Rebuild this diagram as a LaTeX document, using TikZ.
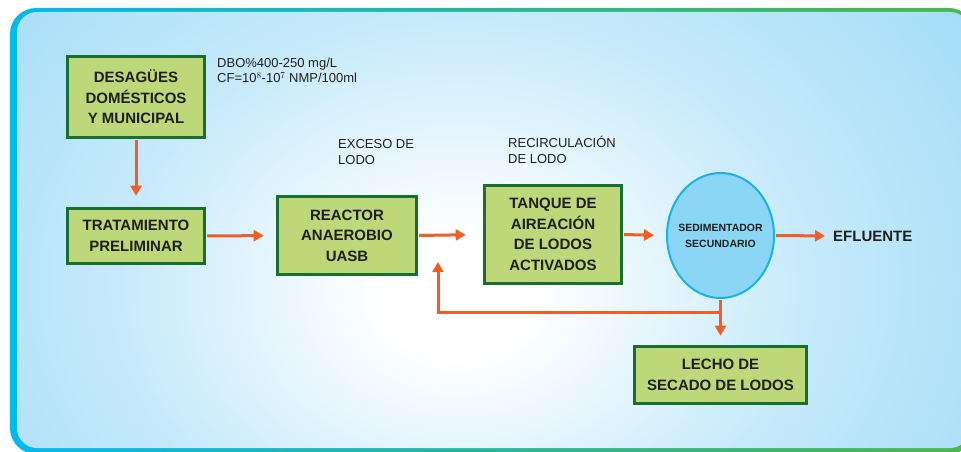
\documentclass[tikz,border=0pt]{standalone}
\usepackage{fontspec}
\setmainfont{Liberation Sans}
\usepackage{xcolor}
\usetikzlibrary{shapes.geometric,arrows.meta,positioning}

\definecolor{boxfill}{RGB}{189,216,121}
\definecolor{boxline}{RGB}{24,112,48}
\definecolor{flow}{RGB}{240,94,40}
\definecolor{sedfill}{RGB}{140,214,245}
\definecolor{sedline}{RGB}{25,178,232}
\definecolor{bgblue}{RGB}{142,213,246}
\definecolor{rimcyan}{RGB}{0,185,240}
\definecolor{rimteal}{RGB}{30,178,165}
\definecolor{rimgreen}{RGB}{78,183,72}

\pgfdeclareradialshading{bgshade}{\pgfpoint{-2bp}{-5bp}}{%
  color(0bp)=(white); color(4bp)=(white);
  color(18bp)=(bgblue!50!white); color(40bp)=(bgblue); color(100bp)=(bgblue)}

\tikzset{
  procbox/.style={draw=boxline, line width=2.6pt, fill=boxfill, align=center,
    inner sep=0pt, text=black!88, font=\bfseries\fontsize{15}{20.5}\selectfont},
  flowline/.style={draw=flow, line width=3pt},
  flowarrow/.style={flowline, -{Triangle[length=10pt,width=11pt]}},
  note/.style={align=left, inner sep=0pt, anchor=north west, text=black!88,
    font=\fontsize{13}{16}\selectfont}
}

\begin{document}
\begin{tikzpicture}[x=1pt, y=-1pt]
        % Page size and clip
        \useasboundingbox (0,0) rectangle (961,452);
        \clip (0,0) rectangle (961,452);

        % Frame: coloured rim, then light blue shaded panel
        \shade[left color=rimcyan, middle color=rimteal, right color=rimgreen,
            rounded corners=26pt] (10,8) rectangle (975,454);
        \begin{scope}
            \clip[rounded corners=20pt] (17,12) rectangle (970,448);
            \shade[shading=bgshade] (17,-150) rectangle (970,600);
        \end{scope}

        % Process units
        \node[procbox, minimum width=137, minimum height=81] (des) at (136,97)
            {DESAGÜES\\DOMÉSTICOS\\Y MUNICIPAL};
        \node[procbox, minimum width=137, minimum height=55] (pre) at (136,236)
            {TRATAMIENTO\\PRELIMINAR};
        \node[procbox, minimum width=139, minimum height=78] (uasb) at (347,235.5)
            {REACTOR\\ANAEROBIO\\UASB};
        \node[procbox, minimum width=137, minimum height=98] (tanque) at (553,234.5)
            {TANQUE DE\\AIREACIÓN\\DE LODOS\\ACTIVADOS};
        \node[ellipse, draw=sedline, line width=2pt, fill=sedfill, align=center,
            inner sep=0pt, minimum width=107, minimum height=125, text=black!88,
            font=\bfseries\fontsize{10.5}{16}\selectfont] (sed) at (720.5,235.5)
            {\makebox[0pt]{SEDIMENTADOR}\\\makebox[0pt]{SECUNDARIO}};
        \node[procbox, minimum width=172, minimum height=57] (lecho) at (720.5,375)
            {LECHO DE\\SECADO DE LODOS};
        \node[anchor=west, inner sep=0pt, text=black!88,
            font=\bfseries\fontsize{15}{18}\selectfont] (efl) at (833,236) {EFLUENTE};

        % Notes
        \node[note, font=\fontsize{13}{15}\selectfont] (dbo) at (217,58)
            {DBO\%400-250 mg/L\\CF=10$^{8}$-10$^{7}$ NMP/100ml};
        \node[note] (exceso) at (338,139.5) {EXCESO DE\\LODO};
        \node[note] (recirc) at (508,136.5) {RECIRCULACIÓN\\DE LODO};

        % Flow lines
        \coordinate (jn) at (720.5,312);
        \coordinate (rec) at (438,262);
        \draw[flowarrow, shorten <=1.3pt, shorten >=11.5pt] (des.south) -- (pre.north);
        \draw[flowarrow, shorten <=1.3pt, shorten >=12.5pt] (pre.east) -- (uasb.west);
        \draw[flowarrow, shorten <=1.3pt, shorten >=17.5pt] (uasb.east) -- (tanque.west);
        \draw[flowarrow, shorten <=1.3pt, shorten >=12pt] (tanque.east) -- (sed.west);
        \draw[flowarrow, shorten <=1pt, shorten >=8pt] (sed.east) -- (efl.west);
        \draw[flowarrow, shorten <=1pt, shorten >=9.5pt] (sed.south) -- (lecho.north);
        \draw[flowarrow] (jn) -| (rec);
    \end{tikzpicture}
\end{document}
